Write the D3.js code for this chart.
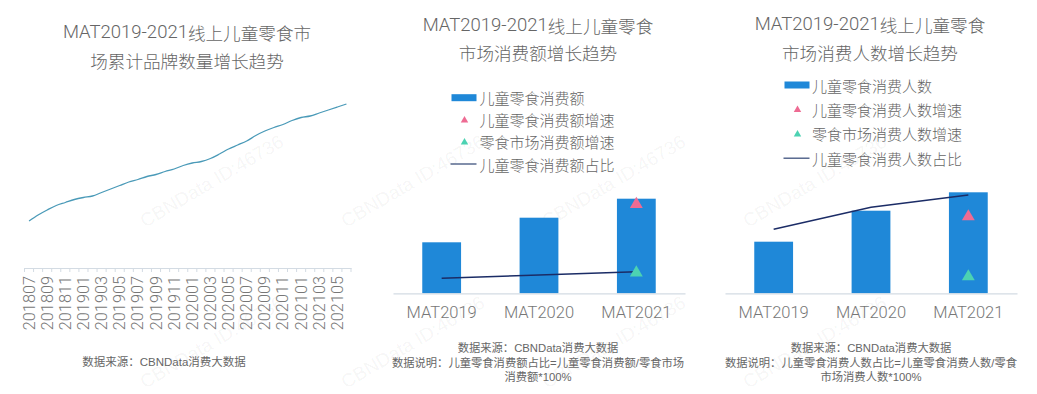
<!DOCTYPE html>
<html>
<head>
<meta charset="utf-8">
<script src="https://cdn.jsdelivr.net/npm/d3@7/dist/d3.min.js"></script>
<style>
  html, body { margin: 0; padding: 0; background: #fff; }
  svg { display: block; font-family: "Liberation Sans", "Noto Sans CJK SC", sans-serif; }
</style>
</head>
<body>
<svg id="chart" width="1037" height="394"></svg>
<script>
// ---------- DATA ----------
const months = ["201807","201808","201809","201810","201811","201812","201901","201902","201903","201904","201905","201906",
  "201907","201908","201909","201910","201911","201912","202001","202002","202003","202004","202005","202006",
  "202007","202008","202009","202010","202011","202012","202101","202102","202103","202104","202105","202106"];
const brandCount = [47, 53, 58, 62.5, 65.5, 68.5, 70.5, 72, 75.5, 79, 82.5, 86, 88.5, 91.5, 93.5, 96.5, 99, 102.5,
  105, 106.5, 109.5, 114, 119, 123, 127, 132.5, 137, 140.5, 143.5, 147.5, 150.5, 152, 155, 158, 161, 164];

const matCats = ["MAT2019", "MAT2020", "MAT2021"];
const kidSales = [51, 75.6, 94.6];
const kidSalesShare = [15, 18.3, 21.6];
const kidSalesGrowth = [null, null, 89];
const marketSalesGrowth = [null, null, 20.6];

const kidConsumers = [51.6, 82.6, 101];
const kidConsumerShare = [64, 86, 98.3];
const kidConsumerGrowth = [null, null, 76.7];
const marketConsumerGrowth = [null, null, 16.7];

const titles = [
  ["MAT2019-2021线上儿童零食市", "场累计品牌数量增长趋势"],
  ["MAT2019-2021线上儿童零食", "市场消费额增长趋势"],
  ["MAT2019-2021线上儿童零食", "市场消费人数增长趋势"]
];
const legendSales = ["儿童零食消费额", "儿童零食消费额增速", "零食市场消费额增速", "儿童零食消费额占比"];
const legendConsumers = ["儿童零食消费人数", "儿童零食消费人数增速", "零食市场消费人数增速", "儿童零食消费人数占比"];
const notesLeft = ["数据来源：CBNData消费大数据"];
const notesSales = ["数据来源：CBNData消费大数据", "数据说明：儿童零食消费额占比=儿童零食消费额/零食市场", "消费额*100%"];
const notesConsumers = ["数据来源：CBNData消费大数据", "数据说明：儿童零食消费人数占比=儿童零食消费人数/零食", "市场消费人数*100%"];
const watermark = "CBNData ID:46736";

// ---------- STYLE ----------
const C = {
  bar: "#1f88d8", pink: "#ee6b93", teal: "#4cd2b2", navy: "#1b2c66",
  line: "#4a9ab8", axis: "#d3dbe3", text: "#666", label: "#777"
};
const LATIN = "Roboto, 'Liberation Sans', sans-serif";
const CJK = "'Noto Sans CJK SC', sans-serif";

const svg = d3.select("#chart");
svg.append("rect").attr("width", 1037).attr("height", 394).attr("fill", "#fff");

// ---------- WATERMARKS (beneath everything) ----------
const wm = svg.append("g").attr("pointer-events", "none");
[228, 389].forEach(sy => {
  for (let k = 0; k <= 3; k++) {
    const sx = 145 + 201 * k;
    wm.append("text").attr("x", 0).attr("y", 0).attr("transform", `translate(${sx},${sy}) rotate(-30.5)`)
      .attr("font-size", 19).attr("fill", "#000").attr("fill-opacity", 0.05).text(watermark);
  }
});

// ---------- TITLES ----------
function title(lines, cx, ys) {
  lines.forEach((t, i) => {
    const tx = svg.append("text").attr("x", cx).attr("y", ys[i]).attr("text-anchor", "middle")
      .attr("dominant-baseline", "central").attr("font-weight", 300).attr("fill", "#666");
    const m = t.match(/^([A-Za-z0-9\-]+)(.*)$/);
    if (m) {
      tx.append("tspan").attr("font-family", LATIN).attr("font-size", 18.5).text(m[1]);
      tx.append("tspan").attr("font-family", CJK).attr("font-size", 17.6).text(m[2]);
    } else {
      tx.append("tspan").attr("font-family", CJK).attr("font-size", 17.6).text(t);
    }
  });
}
title(titles[0], 187, [32, 60]);
title(titles[1], 538, [25, 52]);
title(titles[2], 870, [24, 52]);

// ---------- LEFT: line chart ----------
{
  const x = d3.scaleBand().domain(months).range([24.5, 351]);
  const y = d3.scaleLinear().domain([0, 180]).range([268, 88]);
  const g = svg.append("g");
  const ax = d3.axisBottom(x).tickSizeOuter(0).tickSize(0).tickFormat((d, i) => i % 2 === 0 ? d : "");
  const axg = g.append("g").attr("transform", "translate(0,268)").call(ax);
  axg.select(".domain").attr("stroke", C.axis);
  axg.selectAll(".tick text").attr("font-size", 16.3).attr("fill", C.label)
    .attr("font-family", LATIN).attr("font-weight", 300)
    .attr("text-anchor", "end").attr("dominant-baseline", "central")
    .attr("transform", "rotate(-90)").attr("x", -8).attr("y", 0).attr("dy", null);
  const bounds = months.map(m => x(m)).concat([x.range()[1]]);
  g.selectAll("line.mt").data(bounds).join("line").attr("class", "mt")
    .attr("x1", d => d).attr("x2", d => d).attr("y1", 268).attr("y2", 272)
    .attr("stroke", C.axis);
  const line = d3.line().x((d, i) => x(months[i]) + x.bandwidth() / 2).y(d => y(d)).curve(d3.curveMonotoneX);
  g.append("path").datum(brandCount).attr("d", line).attr("fill", "none")
    .attr("stroke", C.line).attr("stroke-width", 1.3);
}

// ---------- BAR + LINE PANELS ----------
function panel(opts) {
  const y = d3.scaleLinear().domain([0, 100]).range([293.3, 193.3]);
  const y2 = d3.scaleLinear().domain([0, 100]).range([293.3, 193.3]);
  const xc = d3.scaleBand().domain(matCats).range(opts.range);
  const g = svg.append("g");
  const cx = d => xc(d) + xc.bandwidth() / 2;
  const bw = 38.8;
  g.selectAll("rect.bar").data(opts.bars).join("rect").attr("class", "bar")
    .attr("x", (d, i) => cx(matCats[i]) - bw / 2).attr("width", bw)
    .attr("y", d => y(d)).attr("height", d => y(0) - y(d)).attr("fill", C.bar);
  const ax = d3.axisBottom(xc).tickSize(0).tickSizeOuter(0);
  const axg = g.append("g").attr("transform", "translate(0,293.3)").call(ax);
  axg.select(".domain").attr("stroke", C.axis).attr("stroke-width", 1.2);
  axg.selectAll(".tick text").attr("font-size", 16.5).attr("fill", C.label)
    .attr("font-family", LATIN).attr("font-weight", 300).attr("y", 18.5).attr("dy", "0.35em");
  const line = d3.line().x((d, i) => cx(matCats[i])).y(d => y2(d));
  g.append("path").datum(opts.share).attr("d", line).attr("fill", "none")
    .attr("stroke", C.navy).attr("stroke-width", 1.4);
  const tri = d3.symbol(d3.symbolTriangle).size(72);
  [[opts.kidGrowth, C.pink], [opts.marketGrowth, C.teal]].forEach(([arr, col]) => {
    g.selectAll(null).data(arr.map((v, i) => ({ v, c: matCats[i] })).filter(d => d.v != null)).join("path")
      .attr("d", tri).attr("fill", col)
      .attr("transform", d => `translate(${cx(d.c)},${y2(d.v)})`);
  });
  const L = opts.legend;
  const lg = g.append("g");
  L.labels.forEach((t, i) => {
    const yy = L.y0 + i * L.dy;
    if (i === 0) lg.append("rect").attr("x", L.ix).attr("y", yy - 3.5).attr("width", 25).attr("height", 7).attr("fill", C.bar);
    if (i === 1 || i === 2) lg.append("path").attr("d", d3.symbol(d3.symbolTriangle).size(24))
      .attr("fill", i === 1 ? C.pink : C.teal).attr("transform", `translate(${L.ix + 13},${yy + 0.5})`);
    if (i === 3) lg.append("line").attr("x1", L.ix - 1).attr("x2", L.ix + 25).attr("y1", yy).attr("y2", yy)
      .attr("stroke", "#3e527e").attr("stroke-width", 1.3);
    lg.append("text").attr("x", L.tx).attr("y", yy).attr("dominant-baseline", "central")
      .attr("font-family", CJK).attr("font-weight", 300)
      .attr("font-size", 15).attr("fill", C.text).text(t);
  });
  opts.notes.forEach((t, i) => {
    g.append("text").attr("x", opts.noteX).attr("y", 348 + i * 14.7).attr("text-anchor", "middle")
      .attr("dominant-baseline", "central").attr("font-size", 11.3).attr("fill", C.text).text(t);
  });
}

panel({
  range: [393, 685], bars: kidSales, share: kidSalesShare, kidGrowth: kidSalesGrowth, marketGrowth: marketSalesGrowth,
  legend: { labels: legendSales, ix: 451.5, tx: 479.5, y0: 97.7, dy: 22.1 },
  notes: notesSales, noteX: 538
});
panel({
  range: [725, 1017], bars: kidConsumers, share: kidConsumerShare, kidGrowth: kidConsumerGrowth, marketGrowth: marketConsumerGrowth,
  legend: { labels: legendConsumers, ix: 784.5, tx: 812, y0: 85, dy: 24.4 },
  notes: notesConsumers, noteX: 871
});

svg.append("text").attr("x", 164).attr("y", 362).attr("text-anchor", "middle").attr("dominant-baseline", "central")
  .attr("font-size", 11.5).attr("fill", C.text).text(notesLeft[0]);
</script>
</body>
</html>
